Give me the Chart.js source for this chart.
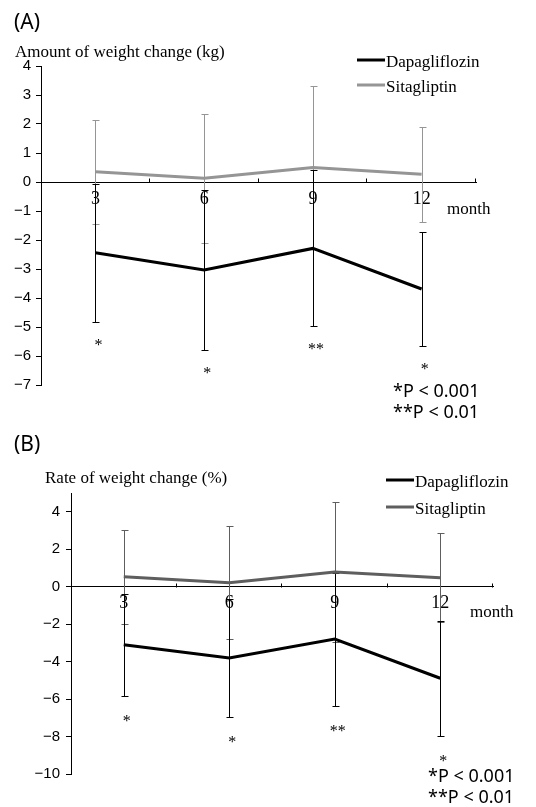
<!DOCTYPE html>
<html>
<head>
<meta charset="utf-8">
<script src="https://cdn.jsdelivr.net/npm/chart.js@4"></script>
<style>
body { margin:0; background:#fff; }
#wrap { position:relative; width:536px; height:807px; }
#chartA { position:absolute; left:0; top:0; }
#chartB { position:absolute; left:0; top:405px; }
</style>
</head>
<body>
<div id="wrap">
<canvas id="chartA" width="536" height="430"></canvas>
<canvas id="chartB" width="536" height="402"></canvas>
</div>
<script>
var months = ['3', '6', '9', '12'];

// (A) amount of weight change, kg
var dapaKg = [-2.44, -3.03, -2.29, -3.69];
var dapaKgSd = [2.38, 2.76, 2.69, 1.95];
var sitaKg = [0.35, 0.13, 0.50, 0.27];
var sitaKgSd = [1.80, 2.23, 2.82, 1.64];
var signifA = ['*', '*', '**', '*'];
var yTicksA = [-7, -6, -5, -4, -3, -2, -1, 0, 1, 2, 3, 4];

// (B) rate of weight change, %
var dapaPct = [-3.10, -3.81, -2.80, -4.89];
var dapaPctSd = [2.73, 3.14, 3.55, 3.06];
var sitaPct = [0.53, 0.21, 0.78, 0.48];
var sitaPctSd = [2.50, 3.01, 3.74, 2.39];
var signifB = ['*', '*', '**', '*'];
var yTicksB = [-10, -8, -6, -4, -2, 0, 2, 4];

var serif = '"Liberation Serif", "Times New Roman", serif';
var sans = '"Liberation Sans", Arial, sans-serif';
var sansP = '"Noto Sans", sans-serif';

function drawErrorBars(chart, dsIndex, sd, color) {
    var ctx = chart.ctx;
    var xs = chart.scales.x, ys = chart.scales.y;
    var data = chart.data.datasets[dsIndex].data;
    ctx.save();
    ctx.strokeStyle = color;
    ctx.lineWidth = 1;
    data.forEach(function(v, i) {
        var px = Math.round(xs.getPixelForValue(i)) + 0.5;
        var top = Math.round(ys.getPixelForValue(v + sd[i])) + 0.5;
        var bot = Math.round(ys.getPixelForValue(v - sd[i])) + 0.5;
        ctx.beginPath();
        ctx.moveTo(px, top); ctx.lineTo(px, bot);
        ctx.moveTo(px - 3, top); ctx.lineTo(px + 4, top);
        ctx.moveTo(px - 3, bot); ctx.lineTo(px + 4, bot);
        ctx.stroke();
    });
    ctx.restore();
}

function makePanelPlugin(p) {
    return {
        id: 'panel',
        beforeDatasetsDraw: function(chart) {
            drawErrorBars(chart, 1, p.sitaSd, p.sitaColor);
            drawErrorBars(chart, 0, p.dapaSd, '#000');
        },
        afterDraw: function(chart) {
            var ctx = chart.ctx;
            var xs = chart.scales.x, ys = chart.scales.y;
            var y0 = Math.round(ys.getPixelForValue(0)) + 0.5;
            ctx.save();

            // small upward ticks on the x axis at category boundaries
            ctx.strokeStyle = '#000';
            ctx.lineWidth = 1;
            var n = chart.data.labels.length;
            for (var i = 1; i <= n; i++) {
                var bx = Math.round(xs.left + i * (xs.right - xs.left) / n) - 0.5;
                ctx.beginPath();
                ctx.moveTo(bx, y0);
                ctx.lineTo(bx, y0 - 4);
                ctx.stroke();
            }

            // panel letter
            ctx.fillStyle = '#000';
            ctx.textAlign = 'left';
            ctx.textBaseline = 'alphabetic';
            ctx.font = '21px ' + sansP;
            ctx.fillText(p.letter, 14, p.letterY);

            // axis title
            ctx.font = '17px ' + serif;
            ctx.fillText(p.title, p.titleX, p.titleY);

            // month label
            ctx.fillText('month', xs.right + p.monthDx, y0 + p.monthDy);

            // legend
            chart.data.datasets.forEach(function(ds, i) {
                var ly = p.legendY[i];
                ctx.strokeStyle = ds.borderColor;
                ctx.lineWidth = 3;
                ctx.beginPath();
                ctx.moveTo(p.legendX, ly);
                ctx.lineTo(p.legendX + 28, ly);
                ctx.stroke();
                ctx.fillStyle = '#000';
                ctx.font = '17px ' + serif;
                ctx.fillText(ds.label, p.legendX + 29, ly + 7);
            });

            // significance marks under the Dapagliflozin error bars
            ctx.font = '16px ' + serif;
            ctx.textAlign = 'center';
            var dapa = chart.data.datasets[0].data;
            p.signif.forEach(function(s, i) {
                var sx = xs.getPixelForValue(i) + 3;
                var sy = ys.getPixelForValue(dapa[i] - p.dapaSd[i]) + p.starDy;
                ctx.fillText(s, sx, sy);
            });

            // p values
            ctx.textAlign = 'left';
            ctx.font = '18px ' + sansP;
            ctx.fillText('*P < 0.001', p.pX, p.pY[0]);
            ctx.fillText('**P < 0.01', p.pX, p.pY[1]);
            ctx.restore();
        }
    };
}

function buildChart(id, p) {
    return new Chart(document.getElementById(id), {
        type: 'line',
        plugins: [makePanelPlugin(p)],
        data: {
            labels: months,
            datasets: [
                { label: 'Dapagliflozin', data: p.dapa, borderColor: '#000', borderWidth: 3, pointRadius: 0, tension: 0 },
                { label: 'Sitagliptin', data: p.sita, borderColor: p.sitaColor, borderWidth: 3, pointRadius: 0, tension: 0 }
            ]
        },
        options: {
            responsive: false,
            animation: false,
            events: [],
            layout: { padding: p.padding },
            plugins: { legend: { display: false }, tooltip: { enabled: false } },
            scales: {
                x: {
                    type: 'category',
                    offset: true,
                    position: { y: 0 },
                    grid: { display: true, drawOnChartArea: false, drawTicks: false, offset: true },
                    border: { color: '#000', width: 1 },
                    ticks: { color: '#000', font: { family: serif, size: 18 }, padding: 6, maxRotation: 0, autoSkip: false }
                },
                y: {
                    min: p.min,
                    max: p.max,
                    grid: { drawOnChartArea: false, tickLength: 5, color: '#000' },
                    border: { color: '#000', width: 1 },
                    ticks: {
                        color: '#000',
                        padding: p.yPad,
                        font: { family: sans, size: 15 },
                        callback: function(v) { return String(v).replace('-', '\u2212'); }
                    },
                    afterBuildTicks: function(scale) {
                        scale.ticks = p.yTicks.map(function(v) { return { value: v }; });
                    },
                    afterFit: function(scale) { scale.width = p.yWidth; }
                }
            }
        }
    });
}

buildChart('chartA', {
    dapa: dapaKg, dapaSd: dapaKgSd, sita: sitaKg, sitaSd: sitaKgSd, signif: signifA,
    yTicks: yTicksA, min: -7, max: 4, sitaColor: '#959595',
    padding: { left: 0, top: 66, right: 60, bottom: 45 }, yWidth: 41, yPad: 5,
    letter: '(A)', letterY: 29, title: 'Amount of weight change (kg)', titleX: 15, titleY: 57,
    monthDx: -29, monthDy: 31, legendX: 357, legendY: [60, 85],
    starDy: 28, pX: 393, pY: [397, 418]
});

buildChart('chartB', {
    dapa: dapaPct, dapaSd: dapaPctSd, sita: sitaPct, sitaSd: sitaPctSd, signif: signifB,
    yTicks: yTicksB, min: -10, max: 5, sitaColor: '#5e5e5e',
    padding: { left: 0, top: 88, right: 43, bottom: 33 }, yWidth: 71, yPad: 6,
    letter: '(B)', letterY: 46, title: 'Rate of weight change (%)', titleX: 45, titleY: 78,
    monthDx: -23, monthDy: 29, legendX: 386, legendY: [75, 102],
    starDy: 30, pX: 428, pY: [377, 398]
});
</script>
</body>
</html>
